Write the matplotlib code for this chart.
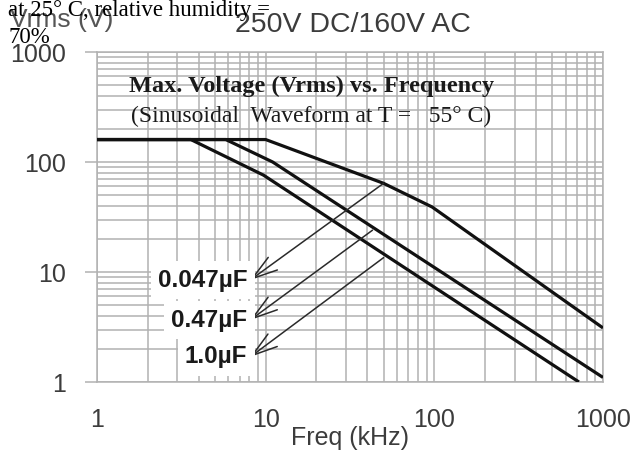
import numpy as np
import matplotlib
matplotlib.use("Agg")
import matplotlib.pyplot as plt

# Max. Vrms vs. frequency, one curve per capacitance
caps = ["0.047µF", "0.47µF", "1.0µF"]
freq_a = [1, 10, 50, 97, 1000]
vrms_a = [160, 160, 64, 39, 3.1]
freq_b = [1, 5.8, 11, 1000]
vrms_b = [160, 160, 100, 1.1]
freq_c = [1, 3.6, 9.7, 720]
vrms_c = [160, 160, 76, 1.0]

# arrow start (on each curve) and arrow tip (next to its label)
tail_f = [50, 43, 50]
tail_v = [64, 24, 13.5]
tip_f = [8.1, 8.1, 8.1]
tip_v = [8.45, 3.66, 1.69]
label_f = 7.8

xticks = [1, 10, 100, 1000]
yticks = [1, 10, 100, 1000]

sans = "Liberation Sans"
serif = "Liberation Serif"
grey_txt = "#3c3c3c"
grid_col = "#b2b2b2"

fig = plt.figure(figsize=(6.34, 4.53), dpi=100)
ax = fig.add_axes([97 / 634, 1 - 382 / 453, 506 / 634, 330 / 453])

ax.set_xscale("log")
ax.set_yscale("log")
ax.set_xlim(1, 1000)
ax.set_ylim(1, 1000)

ax.grid(True, which="both", color=grid_col, lw=1.1)
ax.set_axisbelow(True)
for s in ax.spines.values():
    s.set_color(grid_col)
    s.set_linewidth(1.1)

ax.set_xticks(xticks)
ax.set_xticklabels([str(t) for t in xticks])
ax.set_yticks(yticks)
ax.set_yticklabels([str(t) for t in yticks])
ax.tick_params(which="minor", length=0)
ax.tick_params(axis="y", which="major", length=9, width=1.1, color=grid_col,
               pad=13, labelsize=18, labelcolor=grey_txt)
ax.tick_params(axis="x", which="major", length=0, pad=19,
               labelsize=18, labelcolor=grey_txt)
for lab in ax.get_xticklabels() + ax.get_yticklabels():
    lab.set_fontfamily(sans)

ax.set_xlabel("Freq (kHz)", fontsize=18, color=grey_txt, fontfamily=sans)
ax.xaxis.set_label_coords(0.5, -0.17)
ax.xaxis.label.set_va("center")

for f, v in [(freq_a, vrms_a), (freq_b, vrms_b), (freq_c, vrms_c)]:
    ax.plot(f, v, color="#111111", lw=2.3, solid_capstyle="butt", zorder=3)

for name, tf, tv, hf, hv in zip(caps, tail_f, tail_v, tip_f, tip_v):
    ax.annotate("", xy=(hf, hv), xytext=(tf, tv),
                arrowprops=dict(arrowstyle="->,head_length=1.3,head_width=0.4",
                                color="#2a2a2a", lw=1.1, mutation_scale=14,
                                shrinkA=0, shrinkB=0), zorder=4)
    ax.text(label_f, hv, name, ha="right", va="center", fontsize=17.5,
            fontweight="bold", fontfamily=sans, color="#1a1a1a", zorder=5,
            bbox=dict(boxstyle="square,pad=0.3", fc="white", ec="none"))

ax.text(0.424, 0.879, "Max. Voltage (Vrms) vs. Frequency", transform=ax.transAxes,
        ha="center", va="baseline", fontsize=17.5, fontweight="bold",
        fontfamily=serif, color="#1a1a1a", zorder=5)
ax.text(0.424, 0.788, "(Sinusoidal  Waveform at T =   55° C)", transform=ax.transAxes,
        ha="center", va="baseline", fontsize=17, fontfamily=serif,
        color="#1a1a1a", zorder=5)

fig.text(10 / 634, 1 - 27 / 453, "Vrms (V)", fontsize=19, color="#555555",
         fontfamily=sans, va="baseline")
fig.text(235 / 634, 1 - 32 / 453, "250V DC/160V AC", fontsize=20.5, color=grey_txt,
         fontfamily=sans, va="baseline")
fig.text(8 / 634, 1 - 16 / 453, "at 25° C, relative humidity =", fontsize=16.5,
         color="black", fontfamily=serif, va="baseline")
fig.text(8 / 634, 1 - 43 / 453, "70%", fontsize=16.5, color="black",
         fontfamily=serif, va="baseline")

fig.savefig("out.png", dpi=100)
